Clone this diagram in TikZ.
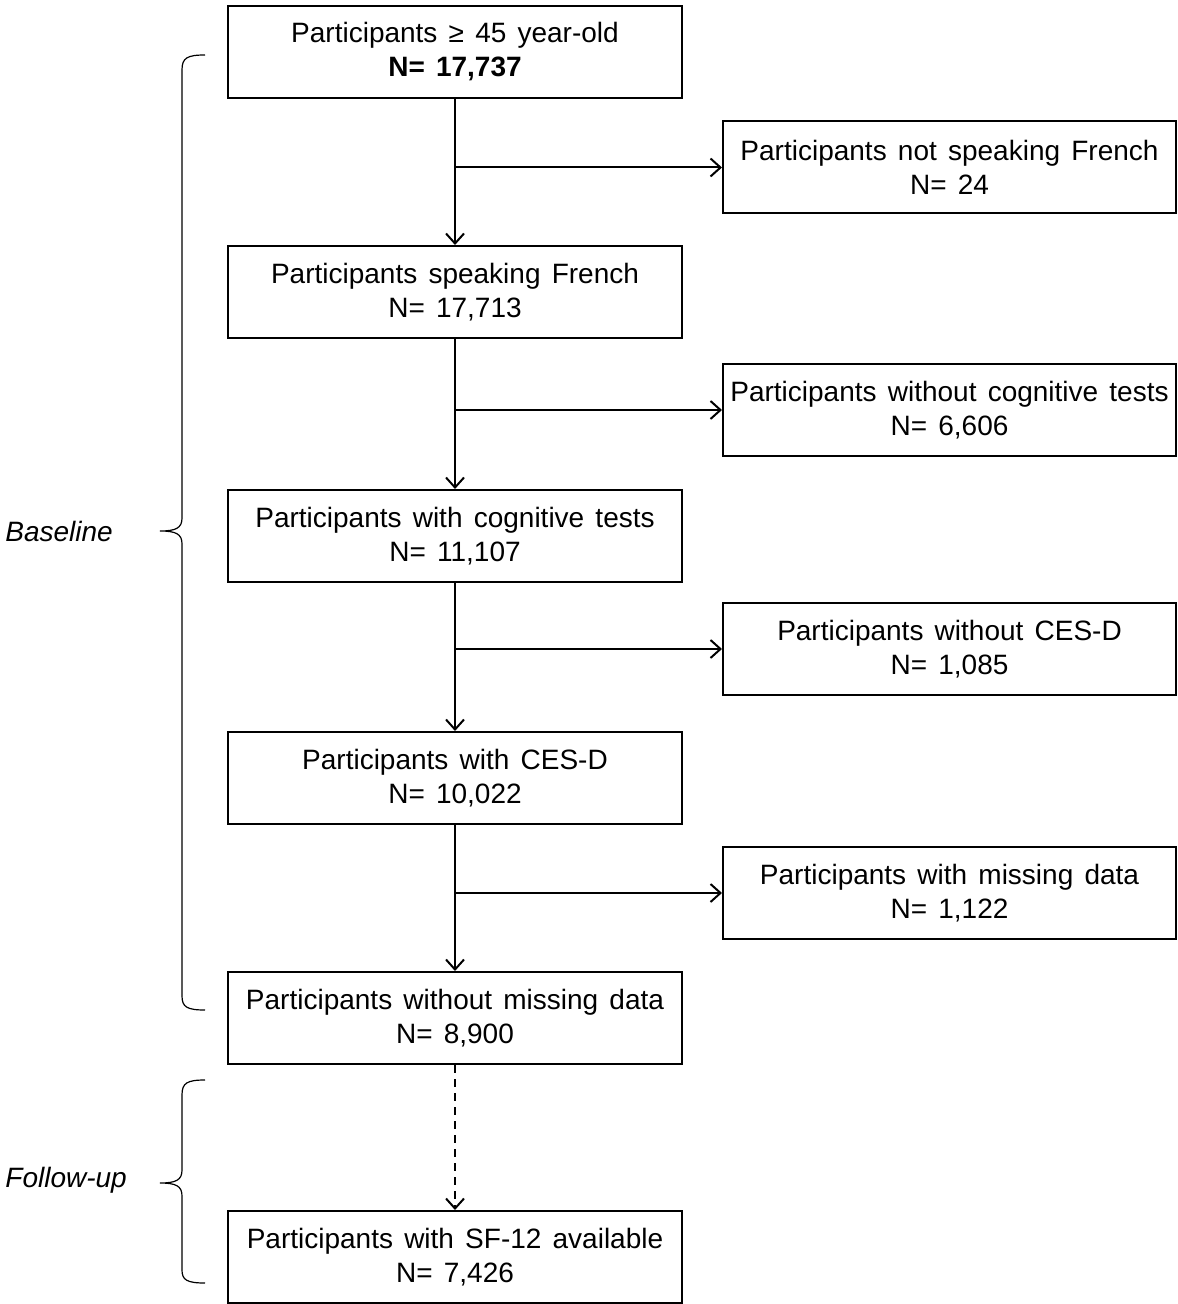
\documentclass[tikz,border=0pt]{standalone}
\usepackage{fontspec}
\setmainfont{Liberation Sans}
\usepackage{tikz}
\usetikzlibrary{arrows.meta}
\usetikzlibrary{positioning}
\newcommand\widewords{\spaceskip=5.6pt\relax}
\tikzset{mainbox/.style ={draw, line width=1pt, minimum width=227pt, minimum height=46pt, align=center, inner sep=0pt, font=\fontsize{14}{17}\selectfont\widewords}}
\tikzset{sidebox/.style ={mainbox, minimum width=226.5pt}}
\tikzset{flow/.style ={line width=1pt, -{Straight Barb[length=5pt,width=9pt,line width=1pt]}}}
\tikzset{curly/.style ={line width=0.6pt}}
\tikzset{phase/.style ={anchor=west, inner sep=0pt, font=\fontsize{14}{17}\selectfont\itshape}}

\begin{document}
\begin{tikzpicture}[x=0.5pt,y=-0.5pt]
{
\useasboundingbox (0,0) rectangle (1177,1304);
% main column
\node[mainbox] (b1) at (455,52) {Participants ≥ 45 year-old\\\textbf{N= 17,737}};
\node[mainbox] (b2) at (455,292) {Participants speaking French\\N= 17,713};
\node[mainbox] (b3) at (455,536) {Participants with cognitive tests\\N= 11,107};
\node[mainbox] (b4) at (455,778) {Participants with CES-D\\N= 10,022};
\node[mainbox] (b5) at (455,1018) {Participants without missing data\\N= 8,900};
\node[mainbox] (b6) at (455,1257) {Participants with SF-12 available\\N= 7,426};
% excluded
\node[sidebox] (r1) at (949.5,167.5) {Participants not speaking French\\N= 24};
\node[sidebox] (r2) at (949.5,410) {Participants without cognitive tests\\N= 6,606};
\node[sidebox] (r3) at (949.5,649) {Participants without CES-D\\N= 1,085};
\node[sidebox] (r4) at (949.5,893) {Participants with missing data\\N= 1,122};
\draw[flow] (b1) -- (b2);
\draw[flow] (b2) -- (b3);
\draw[flow] (b3) -- (b4);
\draw[flow] (b4) -- (b5);
\draw[flow, dash pattern=on 4pt off 3pt] (b5) -- (b6);
\draw[flow] (b1.south |- r1.west) -- (r1.west);
\draw[flow] (b2.south |- r2.west) -- (r2.west);
\draw[flow] (b3.south |- r3.west) -- (r3.west);
\draw[flow] (b4.south |- r4.west) -- (r4.west);
% braces
\draw[curly] (205,55) .. controls (187,55) and (182,58) .. (182,70) -- (182,518)
  .. controls (182,528) and (176,531) .. (160,531)
  .. controls (176,531) and (182,534) .. (182,544) -- (182,996)
  .. controls (182,1007) and (187,1010) .. (205,1010);
\draw[curly] (205,1080) .. controls (187,1080) and (182,1083) .. (182,1095) -- (182,1170)
  .. controls (182,1180) and (176,1183) .. (160,1183)
  .. controls (176,1183) and (182,1186) .. (182,1196) -- (182,1270)
  .. controls (182,1280) and (187,1283) .. (205,1283);
\node[phase] (base) at (5,531) {Baseline};
\node[phase] (follow) at (5,1180) {Follow-up};
}
\end{tikzpicture}
\end{document}
